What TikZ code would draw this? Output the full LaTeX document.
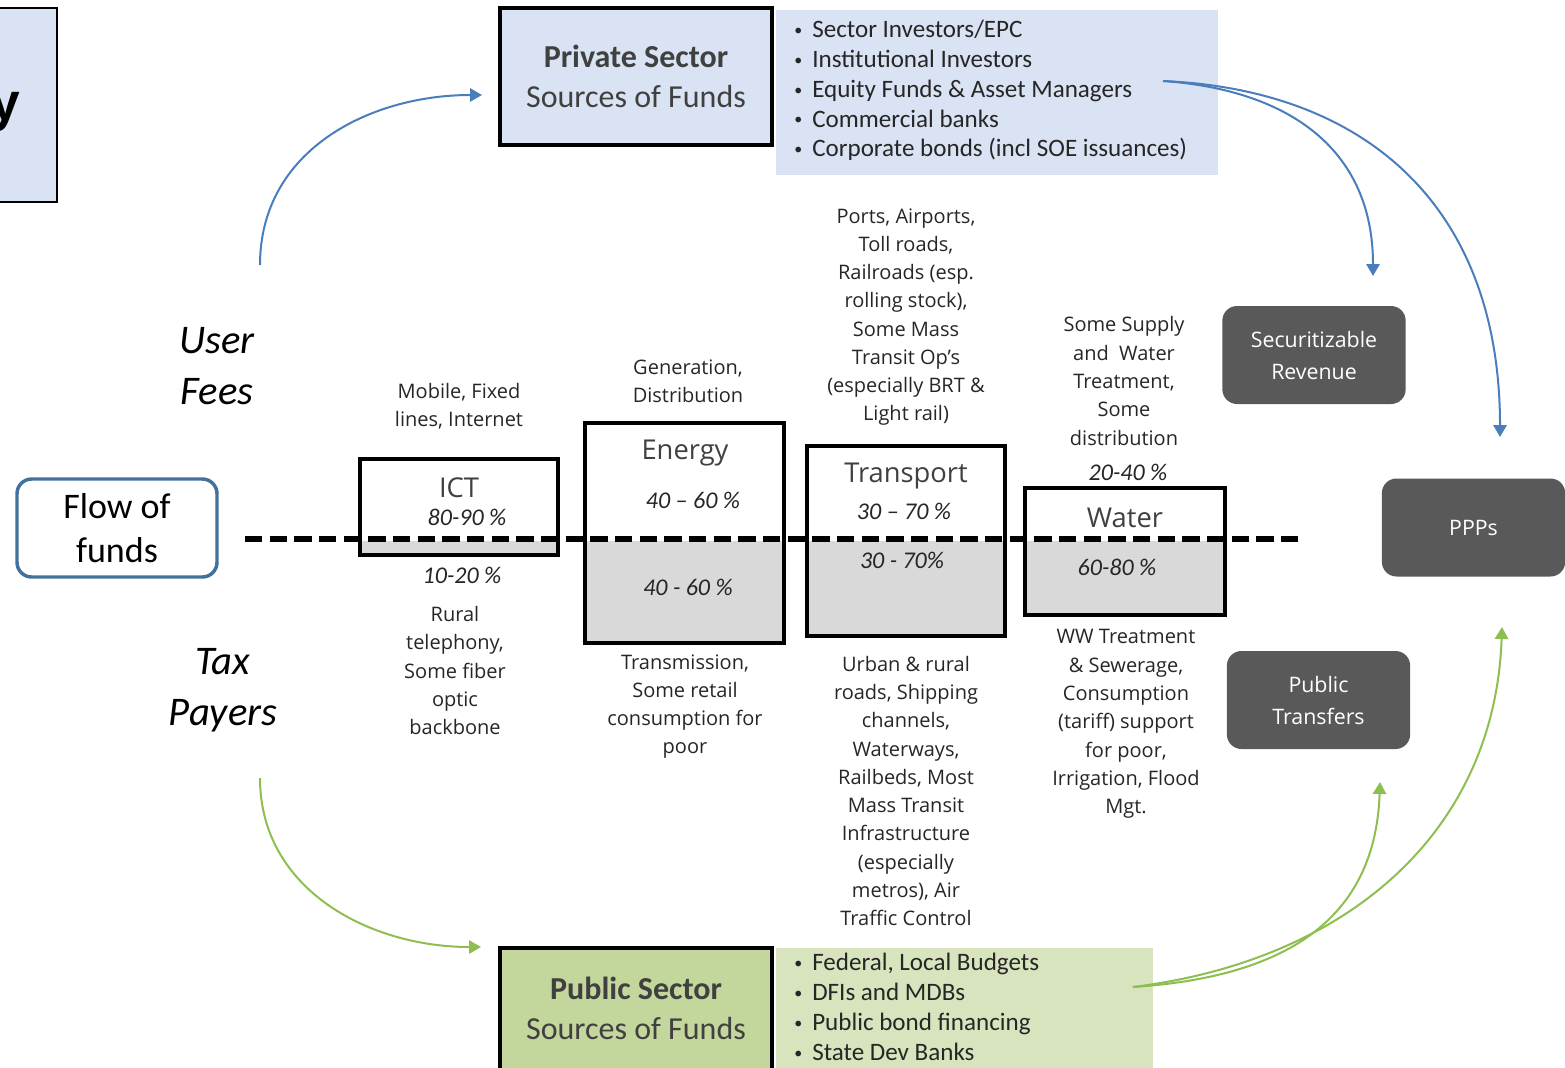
\documentclass[tikz,border=0pt]{standalone}
\usepackage{fontspec}
\setmainfont{Carlito}
\newfontfamily\osans{Open Sans}
\newfontfamily\arialf{Liberation Sans}
\usetikzlibrary{arrows.meta,backgrounds}
\definecolor{lblue}{HTML}{DAE3F3}
\definecolor{lgreen}{HTML}{D7E4BD}
\definecolor{mgreen}{HTML}{C3D69B}
\definecolor{dgray}{HTML}{595959}
\definecolor{fillgray}{HTML}{D9D9D9}
\definecolor{bluearr}{HTML}{4A7EBB}
\definecolor{greenarr}{HTML}{8DBE4F}
\definecolor{flowblue}{HTML}{41719C}
\definecolor{txt}{HTML}{262626}
\definecolor{hdr}{HTML}{404040}
\newcommand{\bul}{\makebox[15pt][l]{\hspace{1.5pt}\raisebox{1.6pt}{\fontsize{12}{12}\selectfont\textbullet}}}
\begin{document}
\begin{tikzpicture}[x=0.75pt,y=-0.75pt,
  sectorbox/.style={draw=black, line width=2.6pt, inner sep=0pt},
  srcbox/.style={draw=black, line width=2.6pt, inner sep=0pt, minimum width=204pt, align=center, text=hdr, font=\fontsize{24}{30}\selectfont},
  listbg/.style={draw=none, inner sep=0pt},
  listtxt/.style={align=left, text=txt, inner sep=0pt, font=\fontsize{18.8}{22.4}\selectfont},
  desc/.style={text=txt, align=center, inner sep=0pt, font=\osans\fontsize{15}{21.2}\selectfont},
  pct/.style={text=txt, inner sep=0pt, font=\itshape\fontsize{18}{20}\selectfont},
  title/.style={text=hdr, inner sep=0pt, font=\osans\fontsize{20.5}{24}\selectfont},
  darkbox/.style={fill=dgray, rounded corners=11pt, text=white, align=center, inner sep=0pt, minimum width=137.5pt, minimum height=73.5pt, font=\osans\fontsize{16}{24}\selectfont},
  side/.style={text=black, align=center, inner sep=0pt, font=\itshape\fontsize{30.5}{38}\selectfont},
  bluearrow/.style={draw=bluearr, line width=1.5pt, -{Triangle[length=9pt,width=10pt]}},
  greenarrow/.style={draw=greenarr, line width=1.5pt, -{Triangle[length=9pt,width=10pt]}},
  dashline/.style={draw=black, line width=3.8pt, dash pattern=on 13pt off 5.5pt}
]
\useasboundingbox (0,0) rectangle (1565,1067);
\clip (0,0) rectangle (1565,1067);

% top-left partial box
\node[draw=black, line width=1.6pt, fill=lblue, minimum width=57.75pt, minimum height=145.5pt, inner sep=0pt] (ybox) at (18.5,105) {};
\node[anchor=east, inner sep=0pt, font=\arialf\bfseries\fontsize{40}{44}\selectfont] (ytxt) at (20,112) {y};

% private sector
\node[listbg, fill=lblue, minimum width=331.5pt, minimum height=123.75pt] (privlist) at (997,92.5) {};
\node[srcbox, fill=lblue, minimum height=102.75pt] (priv) at (636,76.5) {\textbf{Private Sector}\\Sources of Funds};
\node[listtxt, anchor=west] (privitems) at (792,90.5) {%
\bul Sector Investors/EPC\\
\bul Institutional Investors\\
\bul Equity Funds \& Asset Managers\\
\bul Commercial banks\\
\bul Corporate bonds (incl SOE issuances)};

% public sector
\node[listbg, fill=lgreen, minimum width=282.75pt, minimum height=97.5pt] (publist) at (964.5,1013) {};
\node[srcbox, fill=mgreen, minimum height=105pt] (pub) at (636,1018) {};
\node[align=center, text=hdr, inner sep=0pt, font=\fontsize{24}{30}\selectfont] (pubtxt) at (636,1008) {\textbf{Public Sector}\\Sources of Funds};
\node[listtxt, anchor=west] (pubitems) at (792,1007) {%
\bul Federal, Local Budgets\\
\bul DFIs and MDBs\\
\bul Public bond financing\\
\bul State Dev Banks};

% flow of funds
\node[draw=flowblue, line width=2.6pt, rounded corners=11pt, fill=white, minimum width=150pt, minimum height=73.5pt, align=center, inner sep=0pt, font=\fontsize{27}{33}\selectfont] (flow) at (117,528) {Flow of\\funds};

% sector boxes
\node[sectorbox, minimum width=148.5pt, minimum height=72pt] (ict) at (459,507) {};
\node[sectorbox, minimum width=149.25pt, minimum height=165pt] (energy) at (684.5,533) {};
\node[sectorbox, minimum width=148.5pt, minimum height=142.5pt] (transport) at (906,541) {};
\node[sectorbox, minimum width=150pt, minimum height=95.25pt] (water) at (1125,551.5) {};

\begin{pgfonlayer}{background}
\fill[fillgray] (ict.south west) rectangle (ict.east |- 0,541);
\fill[fillgray] (energy.south west) rectangle (energy.east |- 0,541);
\fill[fillgray] (transport.south west) rectangle (transport.east |- 0,541);
\fill[fillgray] (water.south west) rectangle (water.east |- 0,541);
\end{pgfonlayer}

% titles and percentages
\node[title] (ictt) at (459,488) {ICT};
\node[pct] (ictp1) at (467,517) {80-90 \%};
\node[pct] (ictp2) at (462,575) {10-20 \%};
\node[title] (energyt) at (685,453) {Energy};
\node[pct] (energyp1) at (693,500) {40 – 60 \%};
\node[pct] (energyp2) at (688,587) {40 - 60 \%};
\node[title] (transportt) at (906,476) {Transport};
\node[pct] (transportp1) at (904,511) {30 – 70 \%};
\node[pct] (transportp2) at (902,560) {30 - 70\%};
\node[title] (watert) at (1125,518) {Water};
\node[pct] (waterp1) at (1128,472) {20-40 \%};
\node[pct] (waterp2) at (1117,567) {60-80 \%};

% descriptions
\node[desc] (ictup) at (459,406) {Mobile, Fixed\\lines, Internet};
\node[desc] (ictdown) at (455,670.5) {Rural\\telephony,\\Some fiber\\optic\\backbone};
\node[desc] (energyup) at (688,381) {Generation,\\Distribution};
\node[desc] (energydown) at (685,706.5) {Transmission,\\Some retail\\consumption for\\poor};
\node[desc] (transportup) at (906,317) {Ports, Airports,\\Toll roads,\\Railroads (esp.\\rolling stock),\\Some Mass\\Transit Op’s\\(especially BRT \&\\Light rail)};
\node[desc] (transportdown) at (906,791) {Urban \& rural\\roads, Shipping\\channels,\\Waterways,\\Railbeds, Most\\Mass Transit\\Infrastructure\\(especially\\metros), Air\\Traffic Control};
\node[desc] (waterup) at (1124,381) {Some Supply\\and\ \ Water\\Treatment,\\Some\\distribution};
\node[desc] (waterdown) at (1126,724) {WW Treatment\\\& Sewerage,\\Consumption\\(tariff) support\\for poor,\\Irrigation, Flood\\Mgt.};

% dashed line
\coordinate (dstart) at (245,539);
\coordinate (dend) at (1302,539);
\draw[dashline] (dstart) -- (dend);

% dark boxes
\node[darkbox] (secrev) at (1314,355) {Securitizable\\Revenue};
\node[darkbox] (pubtr) at (1318.5,700) {Public\\Transfers};
\node[darkbox] (ppp) at (1473.5,527.5) {PPPs};

% side labels
\node[side] (userfees) at (217,366) {User\\Fees};
\node[side] (taxpayers) at (223,690) {Tax\\Payers};

% arrows
\coordinate (ufstart) at (260,265);
\coordinate (privin) at (482,95);
\coordinate (tpstart) at (260,778);
\coordinate (pubin) at (481,947);
\coordinate (privout) at (1163,81);
\coordinate (secin) at (1373,276);
\coordinate (pppin) at (1500,437);
\coordinate (pubout) at (1133,987);
\coordinate (pubtrin) at (1380,782);
\coordinate (pppin2) at (1502,627);

\draw[bluearrow] (ufstart) .. controls (260,150) and (370,95) .. (privin);
\draw[greenarrow] (tpstart) .. controls (260,890) and (370,947) .. (pubin);
\draw[bluearrow] (privout) .. controls (1290,90) and (1373,150) .. (secin);
\draw[bluearrow] (privout) .. controls (1370,90) and (1500,210) .. (pppin);
\draw[greenarrow] (pubout) .. controls (1270,978) and (1375,930) .. (pubtrin);
\draw[greenarrow] (pubout) .. controls (1350,960) and (1495,830) .. (pppin2);
\end{tikzpicture}
\end{document}
